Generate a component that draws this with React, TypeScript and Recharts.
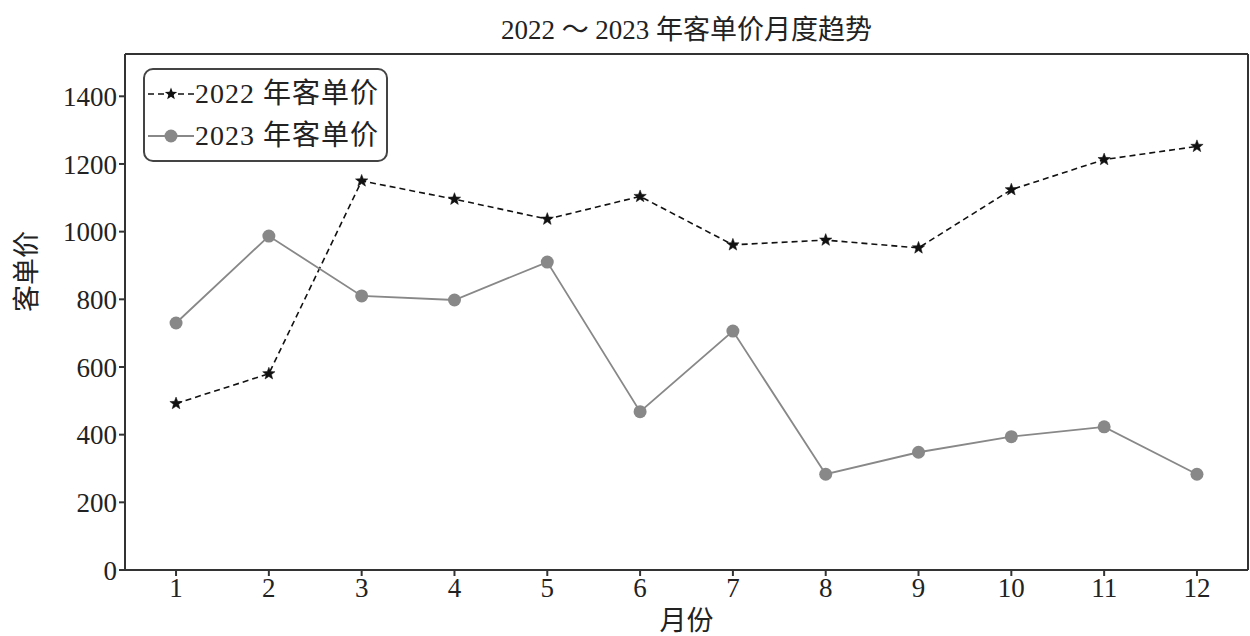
import { LineChart, Line, XAxis, YAxis, ReferenceLine } from 'recharts'

const months = [1, 2, 3, 4, 5, 6, 7, 8, 9, 10, 11, 12]
const price2022 = [492, 580, 1150, 1096, 1037, 1104, 961, 975, 952, 1124, 1213, 1252]
const price2023 = [730, 987, 810, 798, 910, 468, 706, 283, 348, 394, 423, 283]
const yTicks = [0, 200, 400, 600, 800, 1000, 1200, 1400]

const data = months.map((m, i) => ({ month: m, y2022: price2022[i], y2023: price2023[i] }))

const FONT = '"Liberation Serif", "Noto Sans CJK SC", serif'
const AXIS = '#333'
const X_DOMAIN: [number, number] = [0.45, 12.55]
const Y_DOMAIN: [number, number] = [0, 1525]

const starPath = (cx: number, cy: number, r: number) => {
  const pts: string[] = []
  for (let k = 0; k < 10; k++) {
    const rad = k % 2 === 0 ? r : r * 0.42
    const a = -Math.PI / 2 + (k * Math.PI) / 5
    pts.push(`${cx + rad * Math.cos(a)},${cy + rad * Math.sin(a)}`)
  }
  return 'M' + pts.join('L') + 'Z'
}

const StarDot = (props: any) => {
  const { cx, cy, index } = props
  if (cx == null || cy == null) return null
  return <path key={`s${index}`} d={starPath(cx, cy, 6.5)} fill="#111" stroke="#111" strokeWidth={0.5} />
}

const LegendBox = () => (
  <div
    style={{
      position: 'absolute',
      left: 143,
      top: 68,
      border: '2px solid #444',
      borderRadius: 10,
      background: '#fff',
      padding: '3px 4px 3px 3px',
      fontFamily: FONT,
      fontSize: 28,
      letterSpacing: 1,
      color: '#222',
      lineHeight: '42px',
      width: 234,
    }}
  >
    <div style={{ display: 'flex', alignItems: 'center', whiteSpace: 'nowrap' }}>
      <svg width={46} height={20}>
        <line x1={0} y1={10} x2={46} y2={10} stroke="#111" strokeWidth={1.6} strokeDasharray="6 4" />
        <path d={starPath(23, 10, 6.5)} fill="#111" />
      </svg>
      <span style={{ marginLeft: 1 }}>2022 年客单价</span>
    </div>
    <div style={{ display: 'flex', alignItems: 'center', whiteSpace: 'nowrap' }}>
      <svg width={46} height={20}>
        <line x1={0} y1={10} x2={46} y2={10} stroke="#888" strokeWidth={1.8} />
        <circle cx={23} cy={10} r={6.5} fill="#888" />
      </svg>
      <span style={{ marginLeft: 1 }}>2023 年客单价</span>
    </div>
  </div>
)

export default function App() {
  return (
    <div style={{ position: 'absolute', left: 0, top: 0, width: 1250, height: 636, background: '#fff' }}>
      <div
        style={{
          position: 'absolute',
          top: 8,
          left: 125,
          width: 1123,
          textAlign: 'center',
          fontFamily: FONT,
          fontSize: 27,
          color: '#222',
        }}
      >
        2022 ～ 2023 年客单价月度趋势
      </div>
      <LineChart width={1250} height={636} data={data} margin={{ top: 54, right: 2, bottom: 0, left: 0 }}>
        <XAxis
          dataKey="month"
          type="number"
          domain={X_DOMAIN}
          ticks={months}
          allowDataOverflow
          stroke={AXIS}
          strokeWidth={2}
          tickSize={6}
          tick={{ fill: '#222', fontSize: 27, fontFamily: FONT }}
          label={{ value: '月份', position: 'insideBottom', offset: 6, fill: '#222', fontSize: 27, fontFamily: FONT }}
          height={66}
        />
        <YAxis
          domain={Y_DOMAIN}
          ticks={yTicks}
          allowDataOverflow
          stroke={AXIS}
          strokeWidth={2}
          tickSize={6}
          width={125}
          tick={{ fill: '#222', fontSize: 27, fontFamily: FONT }}
          label={{ value: '客单价', angle: -90, position: 'insideLeft', offset: 26, fill: '#222', fontSize: 27, fontFamily: FONT }}
        />
        <ReferenceLine y={Y_DOMAIN[1]} stroke={AXIS} strokeWidth={2} ifOverflow="extendDomain" />
        <ReferenceLine x={X_DOMAIN[1]} stroke={AXIS} strokeWidth={2} ifOverflow="extendDomain" />
        <Line
          dataKey="y2022"
          stroke="#111"
          strokeWidth={1.6}
          strokeDasharray="6 4"
          dot={StarDot}
          isAnimationActive={false}
        />
        <Line
          dataKey="y2023"
          stroke="#888"
          strokeWidth={1.8}
          dot={{ r: 6.5, fill: '#888', stroke: '#888', strokeWidth: 0 }}
          isAnimationActive={false}
        />
      </LineChart>
      <LegendBox />
    </div>
  )
}
